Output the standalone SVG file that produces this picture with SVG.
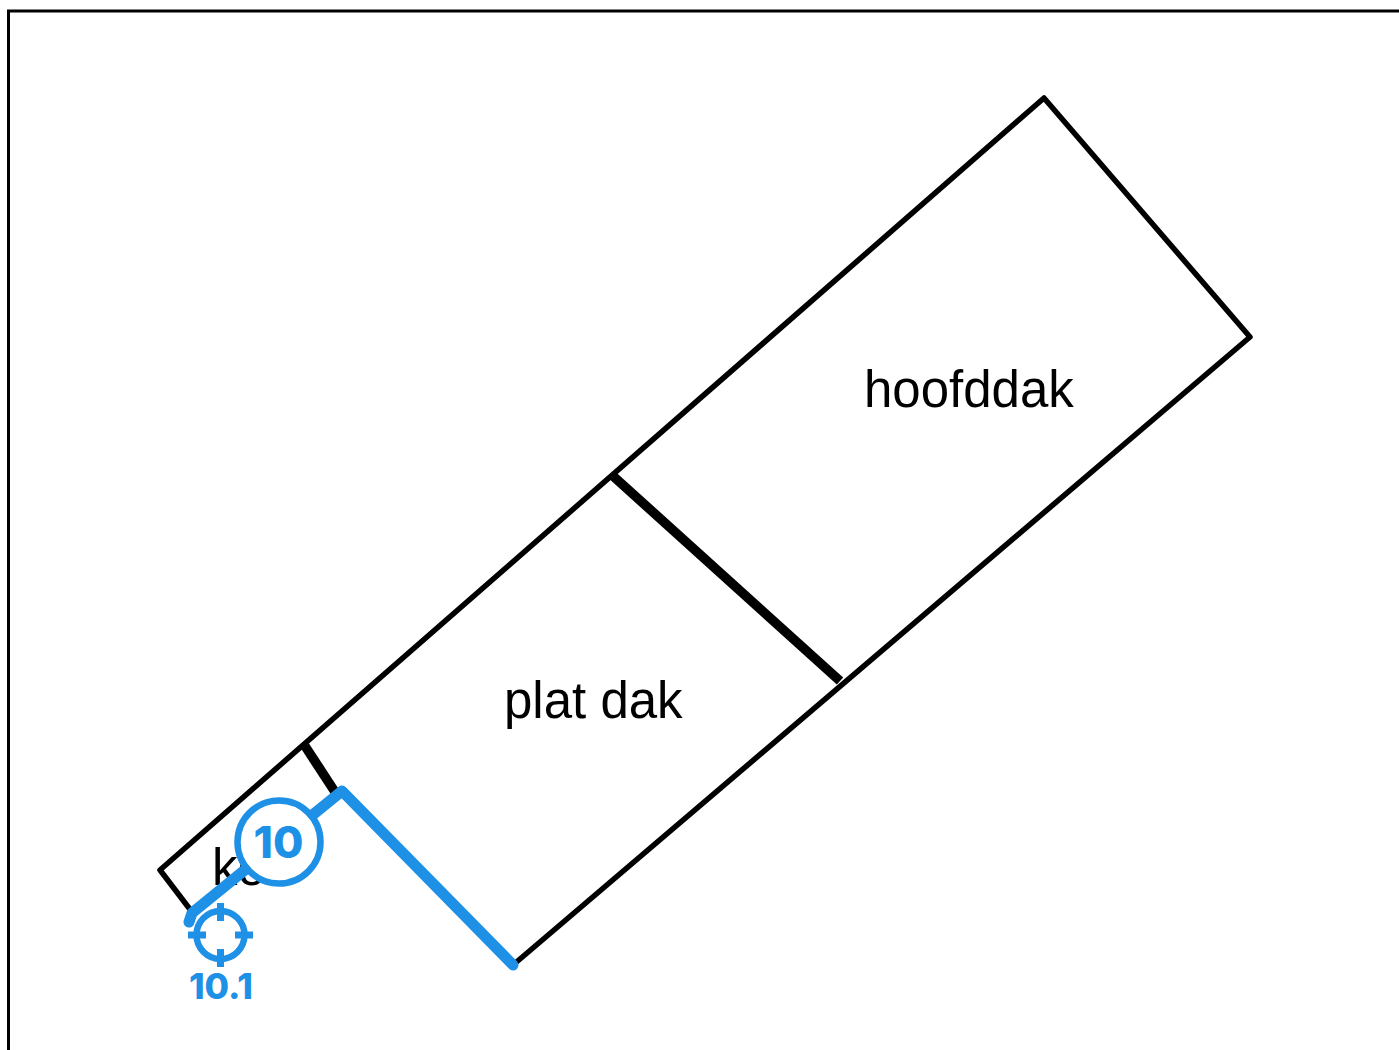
<svg xmlns="http://www.w3.org/2000/svg" width="1399" height="1050" viewBox="0 0 1399 1050">
<style>
.roof{fill:none;stroke:#000;stroke-width:5.500;stroke-linejoin:round}
.ridge{fill:none;stroke:#000;stroke-width:9.500}
.label{font-family:"Liberation Sans",Arial,sans-serif;font-size:51px;fill:#000}
.blue{fill:none;stroke:#1e90e6;stroke-linecap:round;stroke-linejoin:round}
.tick{fill:none;stroke:#1e90e6;stroke-width:7}
.num{font-family:Inter,"Open Sans",sans-serif;font-weight:800;fill:#1e90e6;text-anchor:middle}
</style>
<rect width="1399" height="1050" fill="#fff"/>
<path id="frame" d="M8.500 1050V11H1399" fill="none" stroke="#000" stroke-width="3"/>
<g id="roofs">
<path class="roof" d="M192 912L160 870L1044 98L1250 337L513 965"/>
<path class="ridge" d="M613 476L840 681"/>
<path class="ridge" d="M305 746L337 795"/>
</g>
<g id="labels">
<text class="label" x="864" y="407">hoofddak</text>
<text class="label" x="504" y="718">plat dak</text>
<text class="label" x="212" y="885">ko</text>
</g>
<g id="connectors">
<path class="blue" stroke-width="11" d="M189 922L192 913L342 791L513 965"/>
</g>
<g id="node-10">
<circle cx="279" cy="842" r="41.500" fill="#fff" stroke="#1e90e6" stroke-width="6.500"/>
<text class="num" x="278.500" y="858" font-size="44">10</text>
</g>
<g id="node-10-1">
<circle cx="220.500" cy="935" r="24" fill="none" stroke="#1e90e6" stroke-width="6.500"/>
<path class="tick" d="M220.500 903V921M220.500 949V967M188 935H206M235 935H253"/>
<text class="num" x="221" y="999" font-size="35.500">10.1</text>
</g>
</svg>
